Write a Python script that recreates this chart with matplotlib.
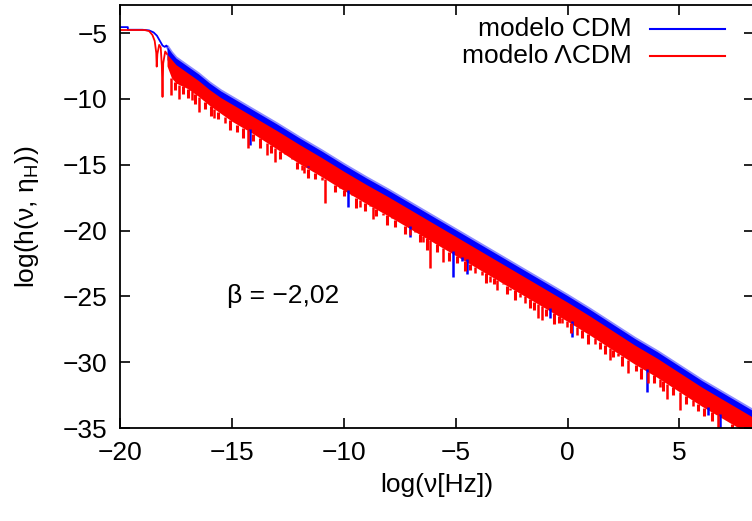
import numpy as np
import matplotlib
matplotlib.use("Agg")
import matplotlib.pyplot as plt

plt.rcParams['font.family'] = ['Liberation Sans', 'DejaVu Sans']
plt.rcParams['mathtext.fontset'] = 'custom'
plt.rcParams['mathtext.rm'] = 'Liberation Sans'
FS = 19

AZUL = '#0000ff'
ROJO = '#ff0000'

# --- plateau al inicio (log nu < -17.9)
cdm_head_x = [-20.0, -19.65, -19.65, -19.0, -18.7, -18.5, -18.35, -18.2, -18.1, -18.0, -17.93, -17.9]
cdm_head_y = [-4.55, -4.55, -4.75, -4.75, -4.8, -4.95, -5.2, -5.65, -5.95, -6.05, -5.95, -6.0]
lcdm_head_x = [-20.0, -18.9, -18.7, -18.55, -18.45, -18.38, -18.36, -18.33, -18.25, -18.18,
               -18.13, -18.1, -18.07, -17.98, -17.9]
lcdm_head_y = [-4.77, -4.77, -4.85, -5.15, -5.6, -6.5, -7.55, -6.6, -5.9, -6.1,
               -7.5, -9.85, -7.3, -6.4, -6.6]

# --- banda de ruido (envolventes)
band_x = [-17.9, -17.7, -17.5, -17.0, -16.5, -16.0, -15.5, -15.0, -14.5, -14.0, -13.0,
          -12.0, -11.0, -10.0, -9.0, -8.0, -7.0, -6.0, -5.0, -4.0, -3.0, -2.0, -1.0,
          0.0, 1.0, 2.0, 3.0, 4.0, 5.0, 6.0, 7.0, 8.0, 8.4]
cdm_top = [-6.0, -6.5, -6.9, -7.5, -8.1, -8.8, -9.4, -9.9, -10.4, -10.9, -11.9,
           -12.95, -13.95, -15.0, -16.0, -16.95, -17.95, -18.95, -19.95, -20.95, -21.95,
           -22.95, -23.95, -24.95, -26.0, -27.1, -28.2, -29.2, -30.3, -31.4, -32.4, -33.4, -33.8]
cdm_bot = [-7.0, -8.0, -8.5, -9.0, -9.6, -10.3, -10.9, -11.5, -12.0, -12.5, -13.6,
           -14.7, -15.7, -16.75, -17.75, -18.7, -19.7, -20.7, -21.7, -22.7, -23.7,
           -24.7, -25.7, -26.7, -27.75, -28.85, -29.95, -30.95, -32.05, -33.15, -34.15, -35.15, -35.55]
lcdm_top = [-6.6, -7.0, -7.4, -8.0, -8.6, -9.3, -9.9, -10.4, -10.9, -11.4, -12.4,
            -13.45, -14.45, -15.5, -16.5, -17.45, -18.45, -19.45, -20.45, -21.45, -22.45,
            -23.45, -24.45, -25.45, -26.5, -27.6, -28.7, -29.7, -30.8, -31.9, -32.9, -33.9, -34.3]
lcdm_bot = [-7.5, -8.4, -8.8, -9.2, -9.8, -10.5, -11.1, -11.7, -12.2, -12.7, -13.8,
            -14.9, -15.9, -16.95, -17.95, -18.9, -19.9, -20.9, -21.9, -22.9, -23.9,
            -24.9, -25.9, -26.9, -27.95, -29.05, -30.15, -31.15, -32.25, -33.35, -34.35, -35.35, -35.75]

# --- picos hacia abajo (profundos)
cdm_spike_x = [-14.2, -11.6, -9.8, -7.04, -5.12, -4.7, -4.5, -0.79, 0.2, 3.55, 6.27, 6.8]
cdm_spike_y = [-13.5, -15.2, -18.2, -20.5, -23.5, -22.3, -23.3, -26.66, -28.07, -32.26, -34.0, -35.5]
lcdm_spike_x = [-17.7, -17.36, -16.8, -16.47, -15.8, -15.3, -14.3, -13.43, -13.07, -12.63,
                -12.3, -11.87, -11.8, -10.97, -10.84, -10.6, -10.17, -9.63, -9.28, -8.83,
                -8.7, -8.25, -7.85, -7.49, -7.04, -6.8, -6.46, -6.15, -5.57, -4.14,
                -3.83, -3.47, -3.15, -2.88, -2.57, -2.13, -1.9, -1.32, -1.14, -0.25,
                -0.03, 0.42, 1.22, 1.9, 2.25, 2.7, 3.6, 4.13, 4.44, 5.02,
                5.6, 6.7, 7.1, 7.7, 8.0]
lcdm_spike_y = [-9.7, -10.0, -10.1, -11.0, -11.45, -11.85, -13.7, -14.27, -14.78, -14.1,
                -14.3, -15.4, -15.6, -16.2, -17.9, -16.3, -16.55, -17.2, -18.2, -18.07,
                -19.1, -18.8, -18.9, -19.4, -20.35, -19.6, -20.86, -22.85, -22.4, -23.25,
                -23.4, -23.9, -24.5, -24.1, -24.5, -25.04, -25.5, -26.66, -26.8, -27.0,
                -27.3, -27.9, -28.6, -29.85, -29.5, -30.8, -31.6, -31.9, -32.8, -33.6,
                -33.3, -35.5, -34.5, -35.5, -35.5]
# picos cortos (textura de la banda roja)
lcdm_short_x = [-17.55, -17.2, -16.95, -16.65, -16.2, -15.95, -15.6, -15.1, -14.75, -14.5,
                -14.05, -13.75, -13.25, -12.85, -12.1, -11.6, -11.3, -10.4, -10.0, -9.45,
                -9.05, -8.55, -8.05, -7.7, -7.25, -6.6, -6.3, -5.85, -5.3, -4.95,
                -4.6, -4.35, -3.65, -3.3, -2.7, -2.35, -1.7, -1.5, -0.95, -0.6,
                -0.4, 0.15, 0.65, 0.9, 1.45, 1.65, 2.05, 2.45, 3.05, 3.3,
                3.85, 4.25, 4.7, 5.3, 5.85, 6.1, 6.45, 7.35, 7.9]
lcdm_short_y = [-9.3, -9.6, -9.9, -10.4, -10.8, -11.3, -11.5, -12.4, -12.5, -13.0,
                -13.2, -13.7, -14.1, -14.6, -15.3, -16.0, -16.1, -17.1, -17.4, -18.3,
                -18.5, -18.9, -19.6, -19.7, -20.3, -20.9, -21.5, -21.6, -22.3, -22.5,
                -23.1, -23.0, -24.0, -24.1, -24.8, -25.3, -25.9, -26.0, -26.5, -27.1,
                -27.0, -27.8, -28.2, -28.6, -29.0, -29.4, -29.6, -30.3, -30.7, -31.3,
                -31.6, -32.2, -32.5, -33.2, -33.7, -34.1, -34.5, -35.5, -35.5]

fig = plt.figure(figsize=(7.52, 5.21), dpi=100)
ax = fig.add_axes([120 / 752, 1 - 428 / 521, 634 / 752, 423 / 521])

# CDM (azul)
ax.plot(cdm_head_x, cdm_head_y, color=AZUL, lw=1.3)
ax.plot(band_x, cdm_top, color=AZUL, lw=2.5, alpha=0.45, solid_capstyle='butt')
ax.fill_between(band_x, cdm_bot, cdm_top, color=AZUL, lw=0)
ax.vlines(cdm_spike_x, cdm_spike_y, np.interp(cdm_spike_x, band_x, cdm_bot),
          color=AZUL, lw=1.8)

# LCDM (rojo)
ax.plot(lcdm_head_x, lcdm_head_y, color=ROJO, lw=1.3)
ax.fill_between(band_x, lcdm_bot, lcdm_top, color=ROJO, lw=0)
ax.vlines(lcdm_spike_x, lcdm_spike_y, np.interp(lcdm_spike_x, band_x, lcdm_bot),
          color=ROJO, lw=1.8)
ax.vlines(lcdm_short_x, lcdm_short_y, np.interp(lcdm_short_x, band_x, lcdm_bot),
          color=ROJO, lw=2.2)

ax.set_xlim(-20, 8.33)
ax.set_ylim(-35, -2.87)
ax.set_xticks([-20, -15, -10, -5, 0, 5])
ax.set_yticks([-35, -30, -25, -20, -15, -10, -5])
ax.tick_params(direction='in', length=7, width=1.2, top=True, right=True,
               labelsize=FS, pad=9)
for s in ax.spines.values():
    s.set_linewidth(1.3)

ax.set_xlabel('log(ν[Hz])', fontsize=FS, labelpad=6)
ax.set_ylabel(r'log(h(ν, η$_\mathregular{H}$))', fontsize=FS, labelpad=16)

ax.text(-15.2, -25.0, 'β = −2,02', fontsize=FS, va='center', ha='left')

# leyenda estilo gnuplot
for yy, lab, c in [(0.943, 'modelo CDM', AZUL), (0.879, 'modelo ΛCDM', ROJO)]:
    ax.text(0.8076, yy, lab, transform=ax.transAxes, ha='right', va='center', fontsize=FS)
    ax.plot([0.836, 0.954], [yy, yy], transform=ax.transAxes, color=c, lw=1.5)

fig.savefig('out.png', dpi=100)
